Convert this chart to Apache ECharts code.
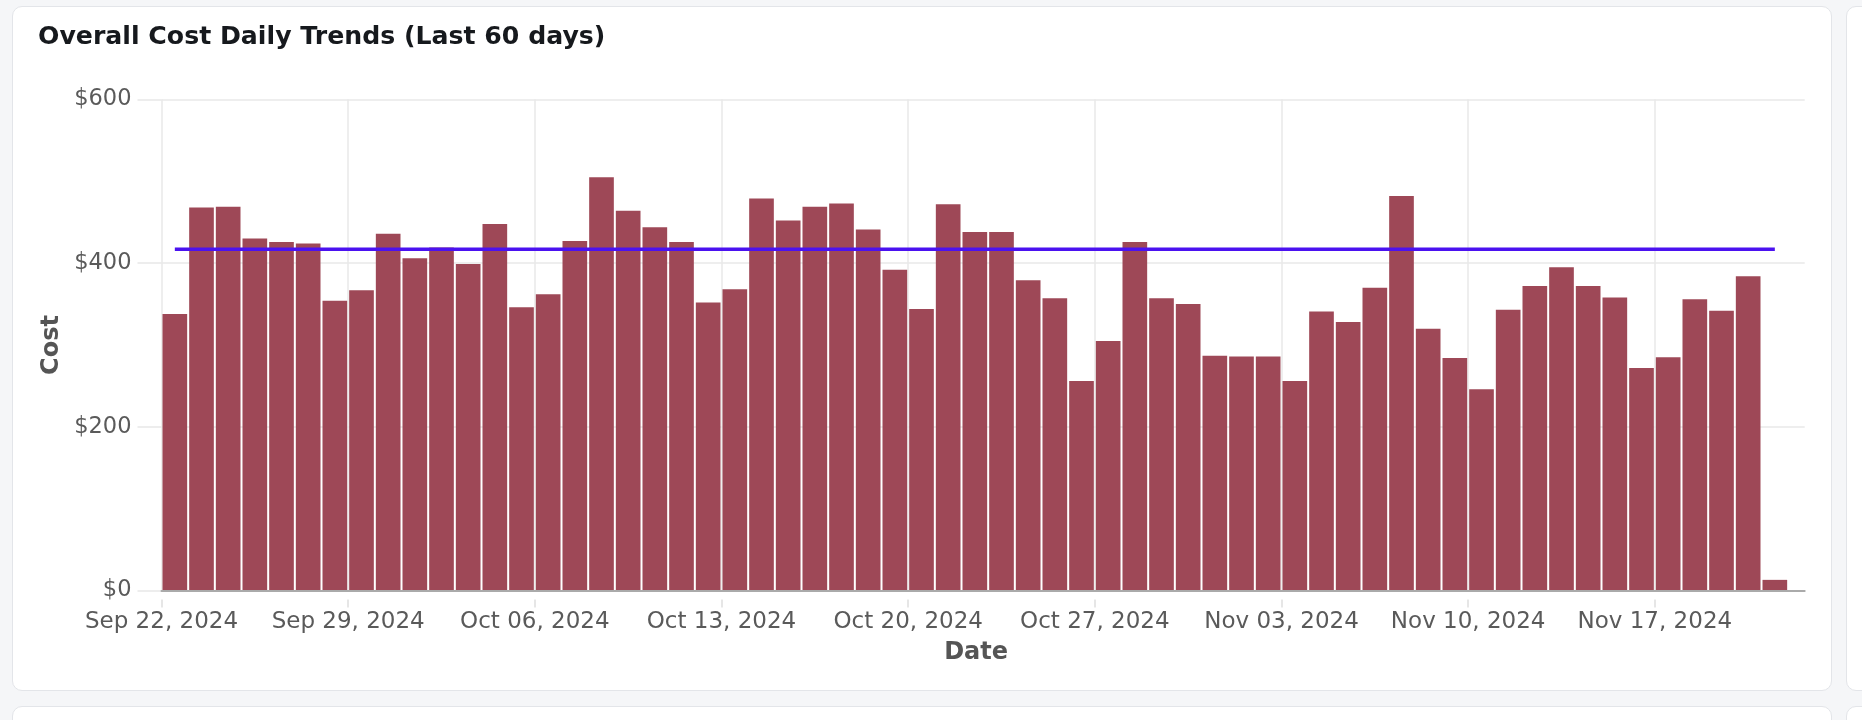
<!DOCTYPE html>
<html>
<head>
<meta charset="utf-8">
<title>Overall Cost Daily Trends</title>
<script src="https://cdn.jsdelivr.net/npm/echarts@6/dist/echarts.min.js"></script>
<style>
  html, body { margin: 0; padding: 0; background: #f5f6f8; }
  body { width: 1862px; height: 720px; position: relative; overflow: hidden; }
  .card { position: absolute; background: #fff; border: 1px solid #e3e5e9; border-radius: 10px; box-sizing: border-box; }
  #main { position: absolute; left: 0; top: 0; width: 1862px; height: 720px; }
</style>
</head>
<body>
<div class="card" style="left:12px;top:6px;width:1820px;height:685px"></div>
<div class="card" style="left:1846px;top:6px;width:40px;height:685px"></div>
<div class="card" style="left:12px;top:706px;width:1820px;height:40px"></div>
<div class="card" style="left:1846px;top:706px;width:40px;height:40px"></div>
<div id="main"></div>
<script>
// one bar per day, Sep 22 .. Nov 21 2024
const dates = [
  '2024-09-22', '2024-09-23', '2024-09-24', '2024-09-25', '2024-09-26', '2024-09-27', '2024-09-28',
  '2024-09-29', '2024-09-30', '2024-10-01', '2024-10-02', '2024-10-03', '2024-10-04', '2024-10-05',
  '2024-10-06', '2024-10-07', '2024-10-08', '2024-10-09', '2024-10-10', '2024-10-11', '2024-10-12',
  '2024-10-13', '2024-10-14', '2024-10-15', '2024-10-16', '2024-10-17', '2024-10-18', '2024-10-19',
  '2024-10-20', '2024-10-21', '2024-10-22', '2024-10-23', '2024-10-24', '2024-10-25', '2024-10-26',
  '2024-10-27', '2024-10-28', '2024-10-29', '2024-10-30', '2024-10-31', '2024-11-01', '2024-11-02',
  '2024-11-03', '2024-11-04', '2024-11-05', '2024-11-06', '2024-11-07', '2024-11-08', '2024-11-09',
  '2024-11-10', '2024-11-11', '2024-11-12', '2024-11-13', '2024-11-14', '2024-11-15', '2024-11-16',
  '2024-11-17', '2024-11-18', '2024-11-19', '2024-11-20', '2024-11-21'
]
const costs = [
  338, 468, 469, 430, 426, 424, 354,
  367, 436, 406, 419, 399, 448, 346,
  362, 427, 505, 464, 444, 426, 352,
  368, 479, 452, 469, 473, 441, 392,
  344, 472, 438, 438, 379, 357, 256,
  305, 426, 357, 350, 287, 286, 286,
  256, 341, 328, 370, 482, 320, 284,
  246, 343, 372, 395, 372, 358, 272,
  285, 356, 342, 384, 13
]
const avgCost = 417
// x axis counts days from Sep 22; ticks every week
const tickDays = [0, 7, 14, 21, 28, 35, 42, 49, 56]
const tickLabels = [
  'Sep 22, 2024', 'Sep 29, 2024', 'Oct 06, 2024', 'Oct 13, 2024', 'Oct 20, 2024',
  'Oct 27, 2024', 'Nov 03, 2024', 'Nov 10, 2024', 'Nov 17, 2024'
]
const yTicks = [0, 200, 400, 600]

const xMax = 61.62
const font = 'DejaVu Sans'
const gridColor = '#e8e8e8'
const labelColor = '#5a5a5a'

let chart = echarts.init(document.getElementById('main'))

chart.setOption({
  animation: false,
  textStyle: { fontFamily: font },
  title: {
    text: 'Overall Cost Daily Trends (Last 60 days)',
    left: 33,
    top: 20,
    textStyle: { fontFamily: font, fontSize: 25.2, fontWeight: 'bold', color: '#16191d' },
  },
  grid: { left: 161.5, right: 57.3, top: 99.5, bottom: 129.5 },
  xAxis: [
    {
      type: 'value',
      min: 0,
      max: xMax,
      interval: 7,
      name: 'Date',
      nameLocation: 'middle',
      nameGap: 50,
      nameTextStyle: { fontFamily: font, fontSize: 24, fontWeight: 'bold', color: '#555555', padding: [0, 14, 0, 0] },
      axisLine: { show: false },
      axisTick: { show: false },
      axisLabel: {
        fontFamily: font,
        fontSize: 23,
        color: labelColor,
        margin: 20,
        showMaxLabel: false,
        formatter: v => {
          let k = tickDays.indexOf(v)
          return k >= 0 ? tickLabels[k] : ''
        },
      },
      splitLine: { show: true, showMaxLine: false, lineStyle: { color: gridColor, width: 1.5 } },
    },
    {
      // baseline drawn above the bars
      type: 'value',
      position: 'bottom',
      min: 0,
      max: xMax,
      z: 5,
      axisLine: { onZero: false, lineStyle: { color: '#aaaaaa', width: 2 } },
      axisTick: { show: false },
      axisLabel: { show: false },
      splitLine: { show: false },
    },
    {
      // small weekly ticks just under the baseline
      type: 'value',
      position: 'bottom',
      offset: 9,
      min: 0,
      max: xMax,
      interval: 7,
      axisLine: { show: false },
      axisTick: { show: true, length: 8, customValues: tickDays, lineStyle: { color: '#dedede', width: 1.5 } },
      axisLabel: { show: false },
      splitLine: { show: false },
    },
  ],
  yAxis: {
    type: 'value',
    min: 0,
    max: 600,
    interval: 200,
    name: 'Cost',
    nameLocation: 'middle',
    nameGap: 97,
    nameTextStyle: { fontFamily: font, fontSize: 24, fontWeight: 'bold', color: '#555555' },
    axisLine: { show: false },
    axisTick: { show: true, length: 24, lineStyle: { color: gridColor, width: 1.5 } },
    axisLabel: {
      fontFamily: font,
      fontSize: 22.5,
      color: labelColor,
      margin: 30,
      formatter: v => yTicks.indexOf(v) >= 0 ? '$' + v : '',
    },
    splitLine: { lineStyle: { color: gridColor, width: 1.5 } },
  },
  series: [
    {
      type: 'bar',
      name: 'Cost',
      // bar i covers the whole day i
      data: costs.map((v, i) => ({ value: [i + 0.5, v], date: dates[i] })),
      barWidth: '92.5%',
      itemStyle: { color: '#9e4857' },
    },
    {
      type: 'line',
      name: 'Average',
      data: [[0.5, avgCost], [costs.length - 0.5, avgCost]],
      symbol: 'none',
      z: 4,
      lineStyle: { color: '#4b12f0', width: 3.4 },
    },
  ],
})
</script>
</body>
</html>
